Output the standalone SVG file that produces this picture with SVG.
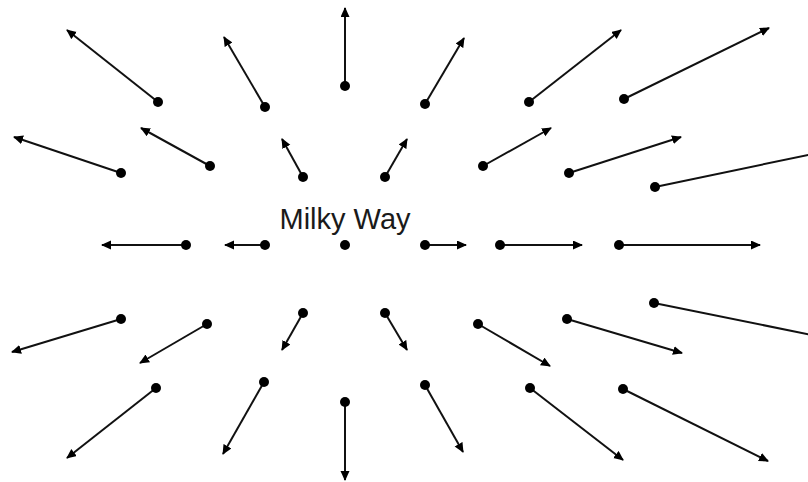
<svg xmlns="http://www.w3.org/2000/svg" width="808" height="482" viewBox="0 0 808 482">
<style>
.dot{fill:#000}
.arr{stroke:#111;stroke-width:2;fill:none;marker-end:url(#ah)}
.lbl{font-family:"Liberation Sans",Arial,sans-serif;font-size:29px;fill:#1a1a1a;text-anchor:middle}
</style>
<defs>
<marker id="ah" markerUnits="userSpaceOnUse" markerWidth="11" markerHeight="10" refX="9" refY="4.5" orient="auto">
<path d="M0,0 L10,4.5 L0,9 z" fill="#000"/>
</marker>
</defs>
<rect width="808" height="482" fill="#fff"/>
<g id="connectors">
<line class="arr" x1="158" y1="102" x2="67" y2="30"/>
<line class="arr" x1="265" y1="107" x2="224" y2="37"/>
<line class="arr" x1="345" y1="86" x2="345" y2="8"/>
<line class="arr" x1="425" y1="104" x2="464" y2="38"/>
<line class="arr" x1="529" y1="102" x2="621" y2="30"/>
<line class="arr" x1="624" y1="99" x2="769" y2="28"/>
<line class="arr" x1="121" y1="173" x2="14" y2="137"/>
<line class="arr" x1="210" y1="166" x2="141" y2="128"/>
<line class="arr" x1="303" y1="177" x2="282" y2="139"/>
<line class="arr" x1="385" y1="177" x2="407" y2="139"/>
<line class="arr" x1="483" y1="166" x2="551" y2="128"/>
<line class="arr" x1="569" y1="173" x2="681" y2="137"/>
<line class="arr" x1="655" y1="187" x2="822" y2="152"/>
<line class="arr" x1="186" y1="245" x2="102" y2="245"/>
<line class="arr" x1="265" y1="245" x2="225" y2="245"/>
<line class="arr" x1="425" y1="245" x2="466" y2="245"/>
<line class="arr" x1="500" y1="245" x2="582" y2="245"/>
<line class="arr" x1="619" y1="245" x2="760" y2="245"/>
<line class="arr" x1="121" y1="319" x2="12" y2="352"/>
<line class="arr" x1="207" y1="324" x2="140" y2="363"/>
<line class="arr" x1="303" y1="313" x2="282" y2="350"/>
<line class="arr" x1="385" y1="313" x2="407" y2="350"/>
<line class="arr" x1="478" y1="324" x2="550" y2="366"/>
<line class="arr" x1="567" y1="319" x2="682" y2="353"/>
<line class="arr" x1="654" y1="303" x2="822" y2="337"/>
<line class="arr" x1="156" y1="388" x2="67" y2="458"/>
<line class="arr" x1="264" y1="382" x2="223" y2="454"/>
<line class="arr" x1="345" y1="402" x2="345" y2="480"/>
<line class="arr" x1="425" y1="385" x2="463" y2="452"/>
<line class="arr" x1="530" y1="388" x2="623" y2="460"/>
<line class="arr" x1="623" y1="389" x2="768" y2="461"/>
</g>
<g id="g1"><circle class="dot" cx="158" cy="102" r="5"/></g>
<g id="g2"><circle class="dot" cx="265" cy="107" r="5"/></g>
<g id="g3"><circle class="dot" cx="345" cy="86" r="5"/></g>
<g id="g4"><circle class="dot" cx="425" cy="104" r="5"/></g>
<g id="g5"><circle class="dot" cx="529" cy="102" r="5"/></g>
<g id="g6"><circle class="dot" cx="624" cy="99" r="5"/></g>
<g id="g7"><circle class="dot" cx="121" cy="173" r="5"/></g>
<g id="g8"><circle class="dot" cx="210" cy="166" r="5"/></g>
<g id="g9"><circle class="dot" cx="303" cy="177" r="5"/></g>
<g id="g10"><circle class="dot" cx="385" cy="177" r="5"/></g>
<g id="g11"><circle class="dot" cx="483" cy="166" r="5"/></g>
<g id="g12"><circle class="dot" cx="569" cy="173" r="5"/></g>
<g id="g13"><circle class="dot" cx="655" cy="187" r="5"/></g>
<g id="g14"><circle class="dot" cx="186" cy="245" r="5"/></g>
<g id="g15"><circle class="dot" cx="265" cy="245" r="5"/></g>
<g id="milky-way"><circle class="dot" cx="345" cy="245" r="5"/><text class="lbl" x="345" y="229">Milky Way</text></g>
<g id="g17"><circle class="dot" cx="425" cy="245" r="5"/></g>
<g id="g18"><circle class="dot" cx="500" cy="245" r="5"/></g>
<g id="g19"><circle class="dot" cx="619" cy="245" r="5"/></g>
<g id="g20"><circle class="dot" cx="121" cy="319" r="5"/></g>
<g id="g21"><circle class="dot" cx="207" cy="324" r="5"/></g>
<g id="g22"><circle class="dot" cx="303" cy="313" r="5"/></g>
<g id="g23"><circle class="dot" cx="385" cy="313" r="5"/></g>
<g id="g24"><circle class="dot" cx="478" cy="324" r="5"/></g>
<g id="g25"><circle class="dot" cx="567" cy="319" r="5"/></g>
<g id="g26"><circle class="dot" cx="654" cy="303" r="5"/></g>
<g id="g27"><circle class="dot" cx="156" cy="388" r="5"/></g>
<g id="g28"><circle class="dot" cx="264" cy="382" r="5"/></g>
<g id="g29"><circle class="dot" cx="345" cy="402" r="5"/></g>
<g id="g30"><circle class="dot" cx="425" cy="385" r="5"/></g>
<g id="g31"><circle class="dot" cx="530" cy="388" r="5"/></g>
<g id="g32"><circle class="dot" cx="623" cy="389" r="5"/></g>
</svg>
